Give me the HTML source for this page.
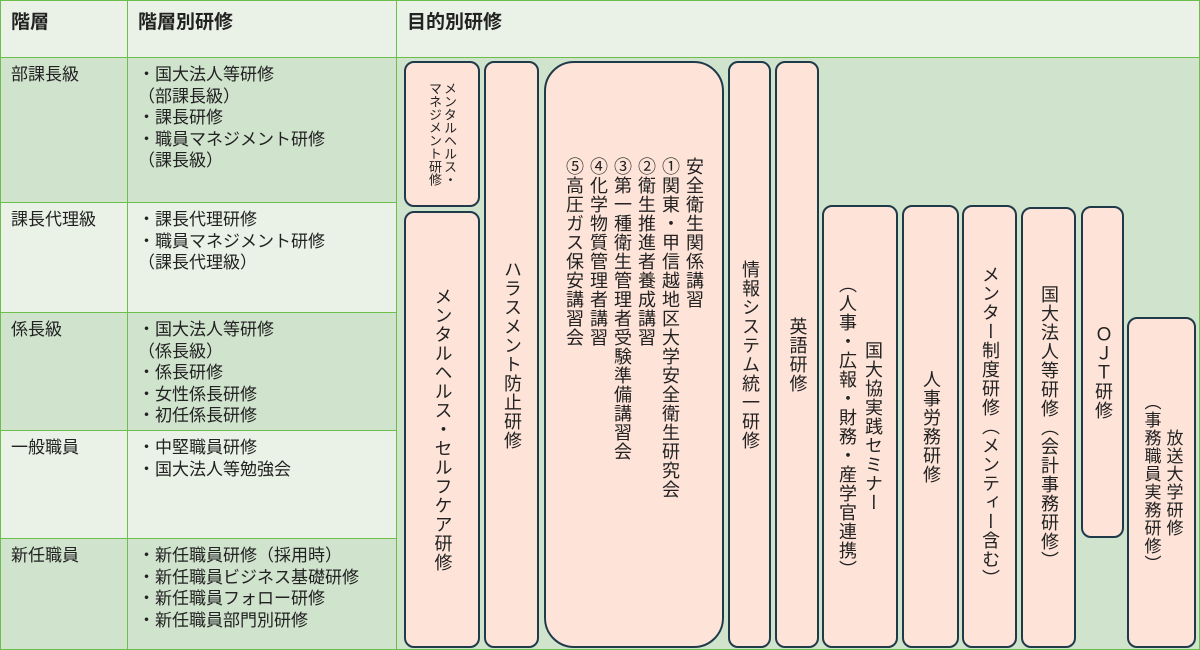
<!DOCTYPE html>
<html><head><meta charset="utf-8"><style>
*{margin:0;padding:0;box-sizing:border-box}
body{width:1200px;height:650px;overflow:hidden;background:#eaf1e6;font-family:"Liberation Sans","Noto Sans CJK JP",sans-serif;color:#222;position:relative}
.c{position:absolute;border:1.5px solid #6cbf4a}
.d{background:#d0e3cd}.l{background:#eaf1e6}
.h{font-weight:bold;font-size:19px;padding:6px 10px}
.t{font-size:17px;line-height:21.5px;padding:6px 10px}
.b{position:absolute;background:#fde3d8;border:2px solid #1f3b4a;border-radius:10px;writing-mode:vertical-rl;display:flex;align-items:center;justify-content:center;text-align:center;font-size:18px;line-height:21px;letter-spacing:1px}
</style></head><body>
<div class="c l h" style="left:0;top:0;width:128px;height:58px">階層</div>
<div class="c l h" style="left:127px;top:0;width:270px;height:58px">階層別研修</div>
<div class="c l h" style="left:396px;top:0;width:804px;height:58px">目的別研修</div>
<div class="c d" style="left:396px;top:57px;width:804px;height:593px"></div>

<div class="c d t" style="left:0;top:57px;width:128px;height:146px">部課長級</div>
<div class="c d t" style="left:127px;top:57px;width:270px;height:146px;padding-left:10px">・国大法人等研修<br>（部課長級）<br>・課長研修<br>・職員マネジメント研修<br>（課長級）</div>
<div class="c l t" style="left:0;top:202px;width:128px;height:111px">課長代理級</div>
<div class="c l t" style="left:127px;top:202px;width:270px;height:111px;padding-left:10px">・課長代理研修<br>・職員マネジメント研修<br>（課長代理級）</div>
<div class="c d t" style="left:0;top:312px;width:128px;height:119px">係長級</div>
<div class="c d t" style="left:127px;top:312px;width:270px;height:119px;padding-left:10px">・国大法人等研修<br>（係長級）<br>・係長研修<br>・女性係長研修<br>・初任係長研修</div>
<div class="c l t" style="left:0;top:430px;width:128px;height:109px">一般職員</div>
<div class="c l t" style="left:127px;top:430px;width:270px;height:109px;padding-left:10px">・中堅職員研修<br>・国大法人等勉強会</div>
<div class="c d t" style="left:0;top:538px;width:128px;height:112px">新任職員</div>
<div class="c d t" style="left:127px;top:538px;width:270px;height:112px;padding-left:10px">・新任職員研修（採用時）<br>・新任職員ビジネス基礎研修<br>・新任職員フォロー研修<br>・新任職員部門別研修</div>

<div class="b" style="left:404px;top:61px;width:76px;height:146px;font-size:13px;line-height:15px;letter-spacing:0">メンタルヘルス・<br>マネジメント研修</div>
<div class="b" style="left:404px;top:211px;width:76px;height:437px">メンタルヘルス・セルフケア研修</div>
<div class="b" style="left:484px;top:61px;width:55px;height:587px">ハラスメント防止研修</div>
<div class="b" style="left:544px;top:61px;width:180px;height:587px;border-radius:30px;justify-content:flex-start;align-items:center;padding-top:94px;text-align:left;line-height:24px">安全衛生関係講習<br>①関東・甲信越地区大学安全衛生研究会<br>②衛生推進者養成講習<br>③第一種衛生管理者受験準備講習会<br>④化学物質管理者講習<br>⑤高圧ガス保安講習会</div>
<div class="b" style="left:728px;top:61px;width:43px;height:587px">情報システム統一研修</div>
<div class="b" style="left:775px;top:61px;width:44px;height:587px">英語研修</div>
<div class="b" style="left:822px;top:205px;width:76px;height:443px;line-height:26px">国大協実践セミナー<br>（人事・広報・財務・産学官連携）</div>
<div class="b" style="left:902px;top:205px;width:57px;height:443px">人事労務研修</div>
<div class="b" style="left:962px;top:205px;width:55px;height:443px">メンター制度研修（メンティー含む）</div>
<div class="b" style="left:1021px;top:207px;width:55px;height:441px">国大法人等研修（会計事務研修）</div>
<div class="b" style="left:1081px;top:206px;width:43px;height:332px">ＯＪＴ研修</div>
<div class="b" style="left:1127px;top:317px;width:69px;height:331px;font-size:17px;line-height:22px">放送大学研修<br>（事務職員実務研修）</div>
</body></html>
